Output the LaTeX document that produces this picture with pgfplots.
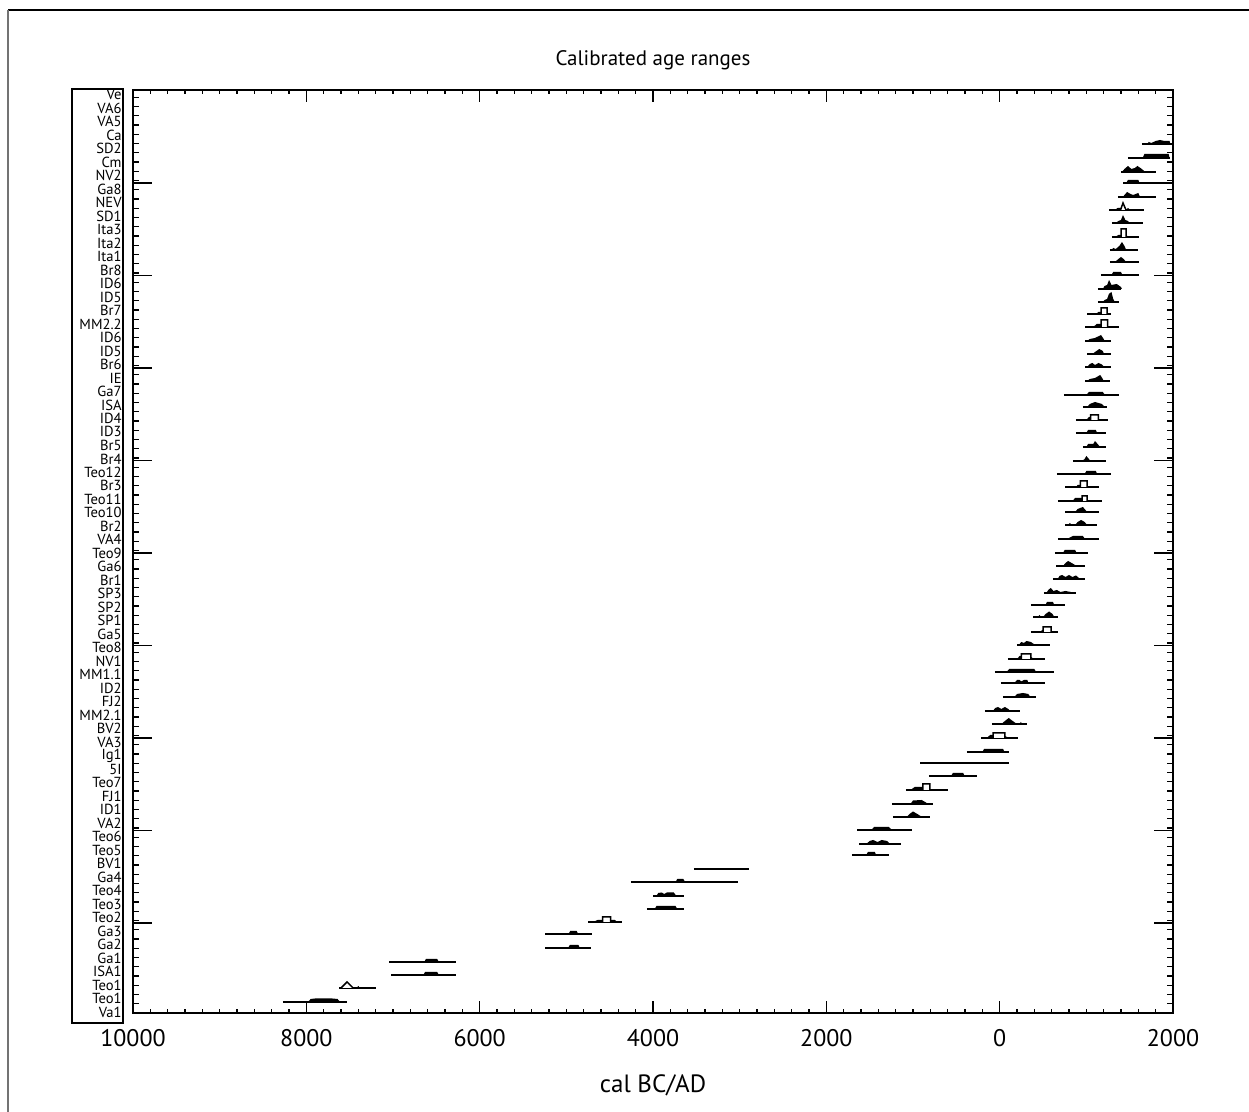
\documentclass[border=0pt]{standalone}
\usepackage{fontspec}
\setmainfont{PT Sans}
\usepackage{pgfplots}
\pgfplotsset{compat=1.18}

\begin{document}
\begin{tikzpicture}[x=0.5pt,y=0.5pt]
\useasboundingbox (0,0) rectangle (1249,1112);
\draw[line width=0.8pt] (8,1102) -- (1249,1102);
\draw[line width=1pt, black!55] (8,1102) -- (8,0);
\draw[line width=0.6pt] (72,89) rectangle (123,1023);

% y ticks and sample names
\begin{axis}[
  at={(66.5pt,49.5pt)}, anchor=south west, scale only axis,
  width=520pt, height=461.5pt,
  xmin=-10000, xmax=2000, ymin=0, ymax=923,
  xtick=\empty,
  ytick={90,182.5,...,923}, yticklabels={},
  minor ytick={0,9.25,...,923},
  tick align=inside, major tick length=9.5pt, minor tick length=3pt,
  every tick/.style={black, line width=0.6pt},
  axis line style={draw=none},
  yticklabel style={font=\fontsize{7.3}{8}\selectfont, anchor=east,
                    inner sep=0pt, xshift=-5.5pt},
  extra y ticks={1,14.49,27.98,41.47,54.96,68.45,81.94,95.43,108.92,122.41,
    135.9,149.39,162.88,176.37,189.86,203.35,216.84,230.33,243.82,257.31,
    270.8,284.29,297.78,311.27,324.76,338.25,351.74,365.23,378.72,392.21,
    405.7,419.19,432.68,446.17,459.66,473.15,486.64,500.13,513.62,527.11,
    540.6,554.09,567.58,581.07,594.56,608.05,621.54,635.03,648.52,662.01,
    675.5,688.99,702.48,715.97,729.46,742.95,756.44,769.93,783.42,796.91,
    810.4,823.89,837.38,850.87,864.36,877.85,891.34,904.83,918.32},
  extra y tick labels={Va1,Teo1,Teo1,ISA1,Ga1,Ga2,Ga3,Teo2,Teo3,Teo4,
    Ga4,BV1,Teo5,Teo6,VA2,ID1,FJ1,Teo7,5I,Ig1,
    VA3,BV2,MM2.1,FJ2,ID2,MM1.1,NV1,Teo8,Ga5,SP1,
    SP2,SP3,Br1,Ga6,Teo9,VA4,Br2,Teo10,Teo11,Br3,
    Teo12,Br4,Br5,ID3,ID4,ISA,Ga7,IE,Br6,ID5,
    ID6,MM2.2,Br7,ID5,ID6,Br8,Ita1,Ita2,Ita3,SD1,
    NEV,Ga8,NV2,Cm,SD2,Ca,VA5,VA6,Ve},
  extra y tick style={major tick length=0pt, tick style={draw=none}},
]
\end{axis}

% data and x axis
\begin{axis}[
  at={(66.5pt,49.5pt)}, anchor=south west, scale only axis,
  width=520pt, height=461.5pt,
  xmin=-10000, xmax=2000, ymin=0, ymax=923,
  ytick=\empty,
  xtick={-10000,-8000,-6000,-4000,-2000,0,2000},
  xticklabels={10000,8000,6000,4000,2000,0,2000},
  scaled x ticks=false,
  minor x tick num=9,
  tick align=inside, major tick length=6pt, minor tick length=1.8pt,
  every tick/.style={black, line width=0.6pt},
  axis line style={line width=0.75pt},
  xticklabel style={font=\fontsize{12}{14}\selectfont, inner sep=0pt, yshift=-8pt},
  unbounded coords=jump,
]
% calibrated ranges
\addplot[black, line width=0.85pt] coordinates {
(-8270,11)(-7530,11)(nan,nan)
(-7620,25)(-7195,25)(nan,nan)
(-7020,38)(-6273,38)(nan,nan)
(-7046,51)(-6273,51)(nan,nan)
(-5246,65)(-4715,65)(nan,nan)
(-5246,79)(-4704,79)(nan,nan)
(-4750,91)(-4360,91)(nan,nan)
(-4070,104)(-3645,104)(nan,nan)
(-3995,117)(-3645,117)(nan,nan)
(-4255,131)(-3020,131)(nan,nan)
(-3527,144)(-2893,144)(nan,nan)
(-1705,158)(-1277,158)(nan,nan)
(-1623,169)(-1140,169)(nan,nan)
(-1646,183)(-1012,183)(nan,nan)
(-1231,196)(-804,196)(nan,nan)
(-1243,209)(-769,209)(nan,nan)
(-1081,223)(-597,223)(nan,nan)
(-816,237)(-262,237)(nan,nan)
(-919,250)(107,250)(nan,nan)
(-377,261)(107,261)(nan,nan)
(-215,275)(211,275)(nan,nan)
(-89,289)(315,289)(nan,nan)
(-170,302)(234,302)(nan,nan)
(38,316)(419,316)(nan,nan)
(15,330)(523,330)(nan,nan)
(-54,341)(627,341)(nan,nan)
(96,354)(523,354)(nan,nan)
(200,368)(581,368)(nan,nan)
(361,381)(673,381)(nan,nan)
(385,396)(673,396)(nan,nan)
(361,408)(754,408)(nan,nan)
(511,420)(880,420)(nan,nan)
(615,434)(984,434)(nan,nan)
(650,447)(984,447)(nan,nan)
(638,460)(1019,460)(nan,nan)
(673,474)(1146,474)(nan,nan)
(754,488)(1123,488)(nan,nan)
(754,501)(1146,501)(nan,nan)
(673,512)(1181,512)(nan,nan)
(754,526)(1146,526)(nan,nan)
(661,539)(1284,539)(nan,nan)
(846,552)(1227,552)(nan,nan)
(961,566)(1227,566)(nan,nan)
(880,580)(1227,580)(nan,nan)
(880,593)(1250,593)(nan,nan)
(961,606)(1238,606)(nan,nan)
(742,618)(1377,618)(nan,nan)
(985,632)(1273,632)(nan,nan)
(985,646)(1284,646)(nan,nan)
(1008,659)(1284,659)(nan,nan)
(985,672)(1284,672)(nan,nan)
(985,686)(1377,686)(nan,nan)
(1008,699)(1284,699)(nan,nan)
(1134,711)(1377,711)(nan,nan)
(1134,724)(1400,724)(nan,nan)
(1169,738)(1607,738)(nan,nan)
(1273,751)(1607,751)(nan,nan)
(1273,763)(1596,763)(nan,nan)
(1296,776)(1607,776)(nan,nan)
(1296,790)(1654,790)(nan,nan)
(1262,803)(1665,803)(nan,nan)
(1365,816)(1803,816)(nan,nan)
(1423,830)(2000,830)(nan,nan)
(1400,841)(1803,841)(nan,nan)
(1480,855)(1965,855)(nan,nan)
(1642,869)(1988,869)
};
% probability distributions (filled)
\addplot[fill=black, draw=none] coordinates {
(-7980,11)(-7950,14)(-7900,14.5)(-7700,14.5)(-7640,14)(-7610,11)(nan,nan)
(-7420,25)(-7400,27)(-7380,25)(nan,nan)
(-6650,38)(-6630,41)(-6490,41)(-6470,38)(nan,nan)
(-6640,51)(-6620,54)(-6490,54)(-6470,51)(nan,nan)
(-4980,65)(-4960,68)(-4860,68)(-4845,65)(nan,nan)
(-4975,79)(-4955,82)(-4880,82)(-4865,79)(nan,nan)
(-4690,91)(-4640,93)(-4440,93)(-4410,91)(nan,nan)
(-3980,104)(-3960,107)(-3740,107)(-3720,104)(nan,nan)
(-3960,117)(-3940,120)(-3900,120.5)(-3870,119)(-3840,120.5)(-3760,120.5)(-3730,117)(nan,nan)
(-3740,131)(-3720,134)(-3650,134)(-3630,131)(nan,nan)
(-1540,158)(-1520,161)(-1440,161)(-1425,158)(nan,nan)
(-1540,169)(-1500,172)(-1460,173)(-1410,171)(-1360,173)(-1300,172)(-1265,169)(nan,nan)
(-1480,183)(-1450,186)(-1280,186)(-1240,183)(nan,nan)
(-1075,196)(-1040,199)(-1000,201.5)(-950,199)(-895,196)(nan,nan)
(-1030,209)(-1000,212.5)(-900,213)(-860,211)(-825,209)(nan,nan)
(-1030,223)(-980,226)(-885,226)(-885,223)(nan,nan)
(-560,237)(-540,240)(-420,240)(-405,237)(nan,nan)
(-200,261)(-180,264)(40,264)(55,261)(nan,nan)
(-150,275)(-110,278)(-75,278)(-75,275)(nan,nan)
(60,275)(60,277)(110,275)(nan,nan)
(20,289)(60,292)(105,295)(150,292)(200,289)(nan,nan)
(230,289)(245,291)(260,289)(nan,nan)
(-80,302)(-50,305)(-20,306)(20,304)(60,306)(100,304)(120,302)(nan,nan)
(170,316)(200,319)(270,320)(330,319)(355,316)(nan,nan)
(170,330)(200,333)(230,333)(250,331.5)(280,333)(320,333)(330,330)(nan,nan)
(80,341)(110,344)(400,344)(420,341)(nan,nan)
(200,354)(230,357)(250,357)(250,354)(nan,nan)
(360,354)(360,356)(400,354)(nan,nan)
(220,368)(250,371)(280,370)(310,372)(360,371)(410,368)(nan,nan)
(470,381)(490,383)(500,383)(500,381)(nan,nan)
(440,396)(460,398)(480,396)(500,396)(530,399)(570,401.5)(610,399)(630,396)(nan,nan)
(530,408)(545,411)(615,411)(630,408)(nan,nan)
(540,420)(560,423)(590,425)(620,422)(660,423)(700,421)(760,422)(820,421)(835,420)(nan,nan)
(670,434)(690,437)(720,438)(760,436)(800,438)(840,436)(880,437.5)(930,434)(nan,nan)
(730,447)(760,450)(790,452)(830,450)(890,447)(nan,nan)
(730,460)(750,463)(870,463)(890,460)(nan,nan)
(760,474)(800,475)(846,477)(960,477)(985,474)(nan,nan)
(790,488)(810,490)(830,488)(870,488)(900,491)(940,493)(980,491)(1010,488)(nan,nan)
(870,501)(900,504)(960,506)(990,503)(1010,501)(nan,nan)
(840,512)(870,515)(950,515)(950,512)(nan,nan)
(880,526)(900,528)(930,528)(930,526)(nan,nan)
(980,539)(1000,542)(1110,542)(1125,539)(nan,nan)
(950,552)(980,554)(1000,557)(1030,554)(1045,552)(nan,nan)
(1000,566)(1020,569)(1080,569)(1100,572)(1130,569)(1160,566)(nan,nan)
(1000,580)(1020,583)(1110,583)(1125,580)(nan,nan)
(1000,593)(1030,596)(1050,596)(1050,593)(nan,nan)
(1010,606)(1040,609)(1100,611)(1180,609)(1215,606)(nan,nan)
(1000,618)(1030,621)(1190,621)(1215,618)(nan,nan)
(1010,632)(1040,634)(1100,635)(1160,638)(1190,634)(1200,632)(nan,nan)
(1010,646)(1040,649)(1070,650)(1100,648)(1140,650)(1180,648.5)(1205,646)(nan,nan)
(1070,659)(1100,661)(1150,664)(1190,662)(1205,659)(nan,nan)
(1010,672)(1040,674)(1100,675)(1170,678)(1200,674)(1210,672)(nan,nan)
(1080,686)(1120,689)(1170,689)(1170,686)(nan,nan)
(1110,699)(1140,701)(1170,701)(1170,699)(nan,nan)
(1190,711)(1210,713)(1240,714)(1260,719)(1290,721)(1310,714)(1330,711)(nan,nan)
(1190,724)(1210,727)(1240,728)(1262,733)(1290,728)(1350,729)(1400,726)(1411,724)(nan,nan)
(1290,738)(1310,741)(1400,741)(1415,738)(nan,nan)
(1330,751)(1370,754)(1400,756)(1430,754)(1460,751)(nan,nan)
(1290,763)(1310,765)(1340,764)(1380,767)(1411,771)(1440,767)(1460,763)(nan,nan)
(1330,776)(1370,778)(1400,778)(1400,776)(nan,nan)
(1458,776)(1458,778)(1490,776)(nan,nan)
(1340,790)(1370,792)(1400,793)(1423,798)(1450,793)(1480,792)(1500,790)(nan,nan)
(1330,803)(1360,805)(1400,805)(1400,803)(nan,nan)
(1460,803)(1480,805)(1510,803)(nan,nan)
(1420,816)(1450,819)(1470,821)(1510,819)(1540,818)(1600,820)(1620,816)(nan,nan)
(1460,830)(1480,833)(1600,833)(1615,830)(nan,nan)
(1410,841)(1440,844)(1480,847)(1520,844)(1560,845)(1590,847)(1640,844)(1680,841)(nan,nan)
(1650,855)(1670,859)(1950,859)(1960,855)(nan,nan)
(1700,869)(1720,871)(1750,870)(1800,872)(1850,873)(1900,872)(1960,872)(1970,869)
};
% open peaks
\addplot[fill=white, draw=black, line width=0.75pt] coordinates {
(-7600,25)(-7530,31)(-7460,25)(nan,nan)
(-4580,91)(-4580,96)(-4490,96)(-4490,91)(nan,nan)
(-885,223)(-885,229)(-805,229)(-805,223)(nan,nan)
(-75,275)(-75,280)(60,280)(60,275)(nan,nan)
(250,354)(250,359)(360,359)(360,354)(nan,nan)
(500,381)(500,386)(595,386)(595,381)(nan,nan)
(950,512)(950,517)(1010,517)(1010,512)(nan,nan)
(930,526)(930,532)(1010,532)(1010,526)(nan,nan)
(1050,593)(1050,598)(1140,598)(1140,593)(nan,nan)
(1170,686)(1170,693)(1245,693)(1245,686)(nan,nan)
(1170,699)(1170,705)(1240,705)(1240,699)(nan,nan)
(1400,776)(1400,784)(1458,784)(1458,776)(nan,nan)
(1395,803)(1423,810)(1458,803)
};
\end{axis}

\node[font=\fontsize{10.5}{12}\selectfont] at (653,1052) {Calibrated age ranges};
\node[font=\fontsize{12.5}{14}\selectfont] at (653,27) {cal BC/AD};
\end{tikzpicture}
\end{document}
